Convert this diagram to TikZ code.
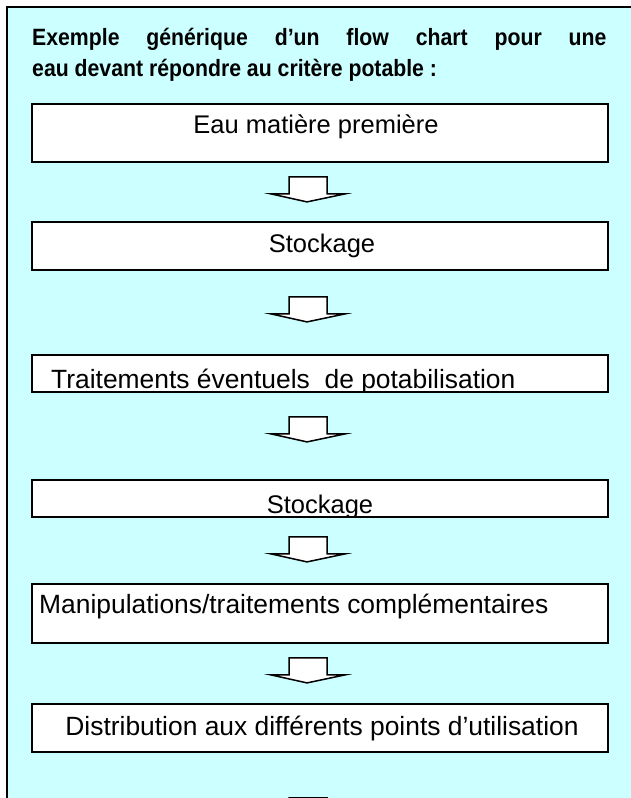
\documentclass[tikz,border=0pt]{standalone}
\usepackage{fontspec}
\usepackage{graphicx}
\setmainfont{Liberation Sans}
\definecolor{bgcyan}{RGB}{204,255,255}
\begin{document}
\begin{tikzpicture}[x=1pt,y=-1pt,
  frame/.style={draw=black, line width=2pt, fill=bgcyan},
  box/.style={draw=black, line width=1.8pt, fill=white, rectangle, minimum width=576pt, inner sep=0pt},
  boxtxt/.style={font=\fontsize{25.5}{30}\selectfont, inner sep=0pt, anchor=base},
  bigtxt/.style={font=\fontsize{26.4}{31}\selectfont, inner sep=0pt, anchor=base},
  titletxt/.style={font=\fontsize{23.6}{28}\selectfont\bfseries, inner sep=0pt, anchor=base west},
  arrowshape/.style={draw=black, line width=1.5pt, fill=white, line join=miter},
  blockarrow/.pic={\path[arrowshape] (-19,0) -- (19,0) -- (19,17) -- (37,17) -- (-1,25) -- (-37,17) -- (-19,17) -- cycle;}
]
\useasboundingbox (0,0) rectangle (631,798);
\clip (0,0) rectangle (631,798);
\path[frame] (7,7) rectangle (660,830);
\node[titletxt] (title1) at (32,45) {\scalebox{0.9}[1]{\makebox[638pt][s]{Exemple générique d’un flow chart pour une}}};
\node[titletxt] (title2) at (32,76) {\scalebox{0.9}[1]{eau devant répondre au critère potable :}};

\node[box, minimum height=58pt] (b1) at (320,133) {};
\node[boxtxt] (t1) at (316,133) {Eau matière première};

\node[box, minimum height=48pt] (b2) at (320,246) {};
\node[boxtxt] (t2) at (322,252) {Stockage};

\node[box, minimum height=37pt] (b3) at (320,373.5) {};
\begin{scope}
\clip ([shift={(1,-1)}]b3.south west) rectangle ([shift={(-1,1)}]b3.north east);
\node[bigtxt, anchor=base west] (t3) at (51,388) {Traitements éventuels\ \ de potabilisation};
\end{scope}

\node[box, minimum height=37pt] (b4) at (320,498.5) {};
\begin{scope}
\clip ([shift={(1,-1)}]b4.south west) rectangle ([shift={(-1,1)}]b4.north east);
\node[boxtxt] (t4) at (320,513) {Stockage};
\end{scope}

\node[box, minimum height=59pt] (b5) at (320,613.5) {};
\node[bigtxt, anchor=base west] (t5) at (39,613) {Manipulations/traitements complémentaires};

\node[box, minimum height=48pt] (b6) at (320,728) {};
\node[bigtxt] (t6) at (322,735) {Distribution aux différents points d’utilisation};

\path (b1.south) ++(-12,14) pic {blockarrow};
\path (b2.south) ++(-12,26) pic {blockarrow};
\path (b3.south) ++(-12,24) pic {blockarrow};
\path (b4.south) ++(-12,19) pic {blockarrow};
\path (b5.south) ++(-12,14) pic {blockarrow};
\path (b6.south) ++(-12,45) pic {blockarrow};
\end{tikzpicture}
\end{document}
